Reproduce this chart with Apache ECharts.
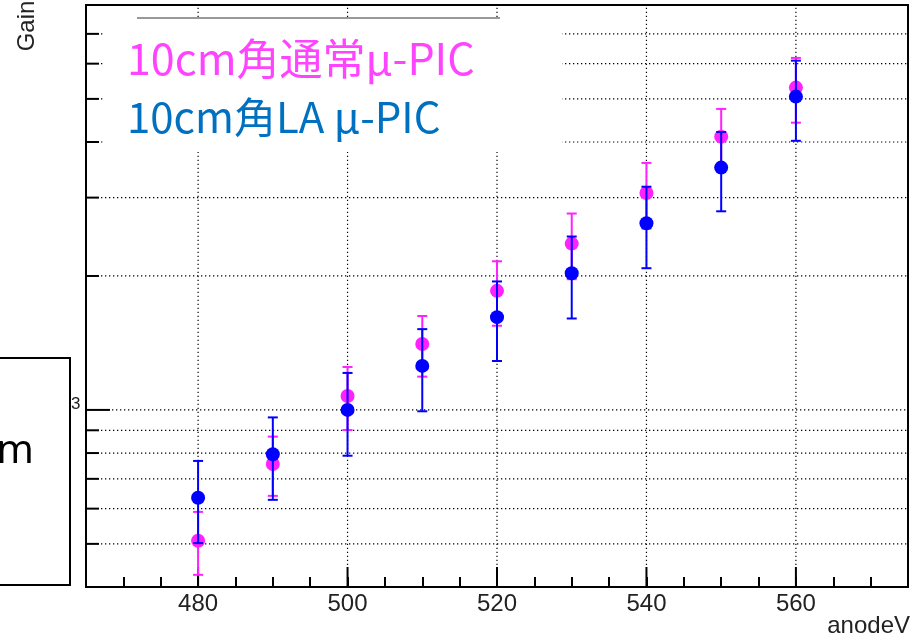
<!DOCTYPE html>
<html>
<head>
<meta charset="utf-8">
<script src="https://cdn.jsdelivr.net/npm/echarts@6/dist/echarts.min.js"></script>
<style>
html, body { margin: 0; padding: 0; background: #fff; }
#chart { width: 912px; height: 643px; }
</style>
</head>
<body>
<div id="chart"></div>
<script>
// anode voltage points
var anodeV = [480, 490, 500, 510, 520, 530, 540, 550, 560];
// 10cm角通常μ-PIC
var normalGain = [508, 756, 1075, 1407, 1852, 2365, 3073, 4113, 5301];
var normalErr = [82, 115, 174, 219, 306, 398, 517, 634, 880];
// 10cm角LA μ-PIC
var laGain = [635, 795, 1000, 1256, 1616, 2029, 2628, 3504, 5060];
var laErr = [133, 167, 211, 263, 328, 424, 546, 709, 1035];
// axis ticks
var yTicks = [500, 600, 700, 800, 900, 1000, 2000, 3000, 4000, 5000, 6000, 7000];
var xLabelTicks = [480, 500, 520, 540, 560];

var X_MIN = 465, X_MAX = 575, Y_MIN = 400, Y_MAX = 8128;

function getID(id) {
    return document.getElementById(id);
}

function errData(gain, err) {
    var out = [];
    for (var i = 0; i < anodeV.length; i++) {
        out.push([anodeV[i], gain[i] - err[i], gain[i] + err[i]]);
    }
    return out;
}

function pointData(gain) {
    var out = [];
    for (var i = 0; i < anodeV.length; i++) {
        out.push([anodeV[i], gain[i]]);
    }
    return out;
}

function errorBar(color) {
    return function (params, api) {
        var lo = api.coord([api.value(0), api.value(1)]);
        var hi = api.coord([api.value(0), api.value(2)]);
        var st = { stroke: color, lineWidth: 2 };
        return {
            type: 'group',
            children: [
                { type: 'line', shape: { x1: lo[0], y1: lo[1], x2: hi[0], y2: hi[1] }, style: st },
                { type: 'line', shape: { x1: lo[0] - 5, y1: lo[1], x2: lo[0] + 5, y2: lo[1] }, style: st },
                { type: 'line', shape: { x1: hi[0] - 5, y1: hi[1], x2: hi[0] + 5, y2: hi[1] }, style: st }
            ]
        };
    };
}

var dotted = { stroke: '#000', lineWidth: 1.2, lineDash: [1.3, 2.7] };

var myChart = echarts.init(getID('chart'));
var option = {
    animation: false,
    backgroundColor: '#fff',
    grid: { left: 86, right: 4, top: 5, bottom: 56, show: true, borderColor: '#000', borderWidth: 2 },
    xAxis: {
        type: 'value', min: X_MIN, max: X_MAX, interval: 5,
        axisLine: { show: false },
        axisTick: { inside: true, length: 10, lineStyle: { color: '#000', width: 2 } },
        splitLine: { show: false },
        axisLabel: {
            margin: 5, color: '#222', fontSize: 24, fontFamily: 'Liberation Sans',
            formatter: function (v) { return v % 20 === 0 ? String(v) : ''; }
        }
    },
    yAxis: {
        type: 'log', min: Y_MIN, max: Y_MAX,
        axisLine: { show: false }, axisTick: { show: false },
        axisLabel: { show: false }, splitLine: { show: false }
    },
    series: [
        {
            // y ticks and dotted grid
            type: 'custom', z: 1, silent: true,
            data: yTicks.map(function (v) { return [X_MIN, v]; }),
            renderItem: function (params, api) {
                var p = api.coord([X_MIN, api.value(1)]);
                var len = api.value(1) === 1000 ? 24 : 13;
                var right = params.coordSys.x + params.coordSys.width;
                return {
                    type: 'group',
                    children: [
                        { type: 'line', shape: { x1: p[0], y1: p[1], x2: p[0] + len, y2: p[1] }, style: { stroke: '#000', lineWidth: 2 } },
                        { type: 'line', shape: { x1: p[0] + len + 2, y1: p[1], x2: right, y2: p[1] }, style: dotted }
                    ]
                };
            }
        },
        {
            // long x ticks and vertical dotted grid
            type: 'custom', z: 1, silent: true,
            data: xLabelTicks.map(function (v) { return [v, Y_MIN]; }),
            renderItem: function (params, api) {
                var p = api.coord([api.value(0), Y_MIN]);
                var top = params.coordSys.y;
                return {
                    type: 'group',
                    children: [
                        { type: 'line', shape: { x1: p[0], y1: p[1], x2: p[0], y2: p[1] - 20 }, style: { stroke: '#000', lineWidth: 2 } },
                        { type: 'line', shape: { x1: p[0], y1: p[1] - 22, x2: p[0], y2: top }, style: dotted }
                    ]
                };
            }
        },
        {
            name: '10cm角通常μ-PIC err', type: 'custom', z: 10,
            data: errData(normalGain, normalErr), renderItem: errorBar('#ff22ff')
        },
        {
            name: '10cm角通常μ-PIC', type: 'scatter', z: 11,
            symbol: 'circle', symbolSize: 14,
            itemStyle: { color: '#ff22ff', opacity: 1 },
            data: pointData(normalGain)
        },
        {
            name: '10cm角LA μ-PIC err', type: 'custom', z: 12,
            data: errData(laGain, laErr), renderItem: errorBar('#0000ff')
        },
        {
            name: '10cm角LA μ-PIC', type: 'scatter', z: 13,
            symbol: 'circle', symbolSize: 14,
            itemStyle: { color: '#0000ff', opacity: 1 },
            data: pointData(laGain)
        }
    ],
    graphic: [
        // white patch behind the legend text
        { type: 'rect', z: 5, shape: { x: 103, y: 18, width: 459, height: 134 }, style: { fill: '#fff' } },
        { type: 'line', z: 6, shape: { x1: 137, y1: 18, x2: 500, y2: 18 }, style: { stroke: '#333', lineWidth: 1 } },
        { type: 'text', z: 7, x: 127, y: 59, style: { text: '10cm角通常μ-PIC', fill: '#ff44ff', font: '43px "Noto Sans CJK JP"', verticalAlign: 'middle' } },
        { type: 'text', z: 7, x: 127, y: 117, style: { text: '10cm角LA μ-PIC', fill: '#0070c0', font: '42px "Noto Sans CJK JP"', verticalAlign: 'middle' } },
        // axis titles
        { type: 'text', z: 7, x: 27, y: 26, rotation: Math.PI / 2, style: { text: 'Gain', fill: '#222', font: '24px "Liberation Sans"', align: 'center', verticalAlign: 'middle' } },
        { type: 'text', z: 7, x: 910, y: 626, style: { text: 'anodeV', fill: '#222', font: '24px "Liberation Sans"', align: 'right', verticalAlign: 'middle' } },
        { type: 'text', z: 7, x: 71, y: 404, style: { text: '3', fill: '#222', font: '17px "Liberation Sans"', verticalAlign: 'middle' } },
        // box on the left edge
        { type: 'rect', z: 8, shape: { x: -5, y: 358, width: 75, height: 227 }, style: { fill: '#fff', stroke: '#000', lineWidth: 2 } },
        { type: 'text', z: 9, x: 34, y: 452, style: { text: 'cm', fill: '#000', font: '40px "Liberation Sans Narrow", "Noto Sans"', align: 'right', verticalAlign: 'middle' } }
    ]
};
myChart.setOption(option);
</script>
</body>
</html>
